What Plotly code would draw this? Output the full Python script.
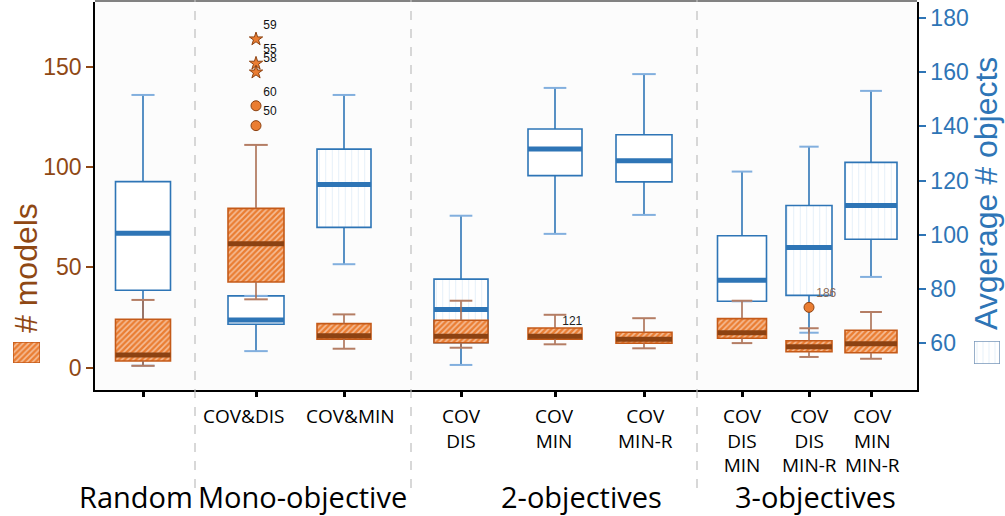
import plotly.graph_objects as go

# ---------------- data ----------------
categories = ["Random", "COV&DIS", "COV&MIN", "COV DIS", "COV MIN", "COV MIN-R",
              "COV DIS MIN", "COV DIS MIN-R", "COV MIN MIN-R"]
tick_labels = ["", "COV&DIS", "COV&MIN", "COV<br>DIS", "COV<br>MIN", "COV<br>MIN-R",
               "COV<br>DIS<br>MIN", "COV<br>DIS<br>MIN-R", "COV<br>MIN<br>MIN-R"]
group_labels = ["Random", "Mono-objective", "2-objectives", "3-objectives"]

# "# models" (left axis, orange)
models_low = [1.0, 34.1, 9.5, 10.0, 11.7, 9.7, 12.3, 5.4, 4.5]
models_q1 = [3.4, 42.7, 14.3, 12.5, 14.3, 12.2, 14.7, 8.0, 7.5]
models_med = [6.4, 61.8, 16.0, 15.7, 15.7, 14.2, 17.5, 10.5, 12.0]
models_q3 = [24.2, 79.4, 22.0, 23.7, 19.8, 17.7, 24.5, 13.5, 18.7]
models_high = [33.8, 111.0, 26.6, 33.4, 26.4, 24.7, 33.4, 19.7, 27.8]

# outliers of "# models": category index, value, label
out_cat = [1, 1, 1, 1, 1, 7, 4]
out_val = [163.7, 151.6, 147.2, 130.5, 120.6, 30.1, 16.3]
out_lab = ["59", "55", "58", "60", "50", "186", "121"]

# "Avgerage # objects" (right axis, blue)
obj_low = [51.6, 57.0, 89.1, 51.9, 100.3, 107.3, 75.4, 63.8, 84.4]
obj_q1 = [79.5, 66.9, 102.7, 60.1, 121.8, 119.5, 75.4, 77.6, 98.3]
obj_med = [100.5, 68.5, 118.5, 72.4, 131.6, 127.3, 83.2, 95.3, 110.8]
obj_q3 = [119.6, 77.4, 131.6, 83.6, 139.0, 136.9, 99.6, 110.8, 126.7]
obj_high = [151.6, 77.4, 151.6, 107.0, 154.2, 159.3, 123.3, 132.5, 153.1]

# ---------------- layout constants ----------------
W, H = 1005, 516
PL, PR, PT, PB = 95, 917, 2, 390
X_POS = [48, 161, 249, 366, 460, 549, 647, 714, 776]       # category centres (x units = px)
LABEL_X = [143, 243, 350, 461, 554, 645, 742, 809, 872]     # tick-label centres (page px)
LABEL_TOP = 401
BOX_W = [55, 56, 54, 54, 54, 56, 49, 46, 52]
BLUE_PATTERN = ["", "", "|", "|", "", "", "", "|", "|"]
OUT_SYMBOL = ["star", "star", "star", "circle", "circle", "circle", "circle"]
OUT_VISIBLE = [1, 1, 1, 1, 1, 1, 0]
OUT_TEXTCOL = ["#111", "#111", "#111", "#111", "#111", "#8a6a58", "#222"]
SEPARATORS = [195, 411, 697]
GROUP_X = [136, 302, 581, 815]

ORANGE = "rgb(234,125,50)"
ORANGE_EDGE = "rgb(196,90,25)"
BROWN = "rgb(140,66,18)"
WHISK_O = "rgb(170,110,82)"
CAP_O = "rgb(180,125,100)"
BLUE = "rgb(46,117,182)"
CAP_B = "rgb(130,175,222)"
LBLUE = "rgb(190,214,238)"
TICK_BROWN = "rgb(143,72,20)"


def px_x(p):
    return p / W


def px_y(p):
    return 1 - p / H


def segs(xs, ws, y0s, y1s, frac=1.0):
    X, Y = [], []
    for xc, w, a, b in zip(xs, ws, y0s, y1s):
        X += [xc - w * frac / 2, xc + w * frac / 2, None]
        Y += [a, b, None]
    return X, Y


def vsegs(xs, a_list, b_list):
    X, Y = [], []
    for xc, a, b in zip(xs, a_list, b_list):
        X += [xc, xc, None]
        Y += [a, b, None]
    return X, Y


fig = go.Figure()


def add_boxes(low, q1, med, q3, high, yaxis, fillcolor, edge, median_col, whisk_col,
              cap_col, pattern):
    fig.add_trace(go.Bar(
        x=X_POS, y=[b - a for a, b in zip(q1, q3)], base=q1, width=BOX_W,
        marker=dict(color=fillcolor, line=dict(color=edge, width=1.6), pattern=pattern),
        yaxis=yaxis, xaxis="x", showlegend=False, hoverinfo="skip"))
    xs, ys = vsegs(X_POS + X_POS, q3 + q1, high + low)
    fig.add_trace(go.Scatter(x=xs, y=ys, mode="lines", line=dict(color=whisk_col, width=1.6),
                             yaxis=yaxis, showlegend=False, hoverinfo="skip"))
    xs, ys = segs(X_POS + X_POS, BOX_W + BOX_W, high + low, high + low, frac=0.42)
    fig.add_trace(go.Scatter(x=xs, y=ys, mode="lines", line=dict(color=cap_col, width=2),
                             yaxis=yaxis, showlegend=False, hoverinfo="skip"))
    xs, ys = segs(X_POS, BOX_W, med, med)
    fig.add_trace(go.Scatter(x=xs, y=ys, mode="lines", line=dict(color=median_col, width=5),
                             yaxis=yaxis, showlegend=False, hoverinfo="skip"))


# blue (objects) first -> drawn underneath
add_boxes(obj_low, obj_q1, obj_med, obj_q3, obj_high, "y", "white", BLUE, BLUE, BLUE, CAP_B,
          dict(shape=BLUE_PATTERN, fgcolor=LBLUE, bgcolor="white", size=6.5, solidity=0.12))
# orange (models) on top
add_boxes(models_low, models_q1, models_med, models_q3, models_high, "y2", ORANGE, ORANGE_EDGE,
          BROWN, WHISK_O, CAP_O,
          dict(shape="/", fgcolor="white", bgcolor=ORANGE, size=4, solidity=0.4))

# outliers
fig.add_trace(go.Scatter(
    x=[X_POS[c] for c in out_cat], y=out_val, mode="markers+text", yaxis="y2",
    text=out_lab, textposition="top right",
    textfont=dict(family="Liberation Sans, Arial", size=12, color=OUT_TEXTCOL),
    marker=dict(symbol=OUT_SYMBOL, size=10, color=ORANGE,
                opacity=OUT_VISIBLE, line=dict(color=BROWN, width=1)),
    showlegend=False, hoverinfo="skip"))

# legend swatches (small subplots in the margins)
fig.add_trace(go.Bar(x=[0], y=[1], base=[0], width=[1], xaxis="x2", yaxis="y3",
                     marker=dict(color=ORANGE, line=dict(color=ORANGE_EDGE, width=1.5),
                                 pattern=dict(shape="/", fgcolor="white", bgcolor=ORANGE,
                                              size=4, solidity=0.4)),
                     cliponaxis=False, showlegend=False, hoverinfo="skip"))
fig.add_trace(go.Bar(x=[0], y=[1], base=[0], width=[1], xaxis="x3", yaxis="y4",
                     marker=dict(color="white", line=dict(color="rgb(120,150,185)", width=1.5),
                                 pattern=dict(shape="|", fgcolor=LBLUE, bgcolor="white",
                                              size=6, solidity=0.12)),
                     cliponaxis=False, showlegend=False, hoverinfo="skip"))

# ranges: left px mapping value=(367.8-y)/2.008 ; right value=60+(343-y)/2.708
left_range = [(367.8 - PB) / 2.008, (367.8 - PT) / 2.008]
right_range = [60 + (343 - PB) / 2.708, 60 + (343 - PT) / 2.708]

fig.update_layout(
    width=W, height=H,
    margin=dict(l=0, r=0, t=0, b=0),
    paper_bgcolor="white", plot_bgcolor="rgb(252,252,252)",
    barmode="overlay",
    xaxis=dict(domain=[px_x(PL), px_x(PR)], range=[0, PR - PL], anchor="y",
               tickmode="array", tickvals=X_POS, ticktext=[""] * len(X_POS),
               ticks="outside", ticklen=5, tickwidth=3, tickcolor="black",
               showline=True, linecolor="black", linewidth=1.5,
               showgrid=False, zeroline=False),
    yaxis=dict(domain=[px_y(PB), px_y(PT)], range=right_range, side="right", anchor="x",
               tickmode="array", tickvals=[60, 80, 100, 120, 140, 160, 180],
               ticks="outside", ticklen=7, tickwidth=2, tickcolor=BLUE,
               showline=True, linecolor="black", linewidth=1.5,
               showgrid=False, zeroline=False,
               tickfont=dict(family="Liberation Sans, Arial", size=23, color=BLUE)),
    yaxis2=dict(range=left_range, overlaying="y", side="left", anchor="x",
                tickmode="array", tickvals=[0, 50, 100, 150],
                ticks="outside", ticklen=7, tickwidth=2, tickcolor=TICK_BROWN,
                showline=True, linecolor="black", linewidth=1.5,
                showgrid=False, zeroline=False,
                tickfont=dict(family="Liberation Sans, Arial", size=23, color=TICK_BROWN)),
    xaxis2=dict(domain=[px_x(13), px_x(40)], range=[-0.5, 0.5], anchor="y3", visible=False),
    yaxis3=dict(domain=[px_y(363), px_y(342)], range=[0, 1], anchor="x2", visible=False),
    xaxis3=dict(domain=[px_x(974), px_x(1000)], range=[-0.5, 0.5], anchor="y4", visible=False),
    yaxis4=dict(domain=[px_y(364), px_y(341)], range=[0, 1], anchor="x3", visible=False),
)

shapes = [dict(type="line", xref="paper", yref="paper", x0=px_x(PL), x1=px_x(PR),
               y0=px_y(1), y1=px_y(1), line=dict(color="rgb(130,130,130)", width=2))]
for s in SEPARATORS:
    shapes.append(dict(type="line", xref="paper", yref="paper", x0=px_x(s), x1=px_x(s),
                       y0=px_y(488), y1=px_y(0),
                       line=dict(color="rgb(190,190,190)", width=1.2, dash="dash")))
fig.update_layout(shapes=shapes)

annotations = [
    dict(text="# models", x=px_x(26), y=px_y(268), xref="paper", yref="paper",
         textangle=-90, showarrow=False, xanchor="center", yanchor="middle",
         font=dict(family="Liberation Sans, Arial", size=32, color=TICK_BROWN)),
    dict(text="Avgerage # objects", x=px_x(986), y=px_y(194), xref="paper", yref="paper",
         textangle=-90, showarrow=False, xanchor="center", yanchor="middle",
         font=dict(family="Liberation Sans, Arial", size=32, color=BLUE)),
]
# category labels (multi-line, under the ticks)
for lx, lab in zip(LABEL_X, tick_labels):
    if lab:
        annotations.append(dict(text=lab, x=px_x(lx), y=px_y(LABEL_TOP), xref="paper",
                                yref="paper", showarrow=False, xanchor="center",
                                yanchor="top", align="center",
                                font=dict(family="Open Sans", size=19, color="black")))
for gx, gl in zip(GROUP_X, group_labels):
    annotations.append(dict(text=gl, x=px_x(gx), y=px_y(496), xref="paper", yref="paper",
                            showarrow=False, xanchor="center", yanchor="middle",
                            font=dict(family="Open Sans", size=29, color="black")))
fig.update_layout(annotations=annotations)

fig.write_html("out.html", config={"displayModeBar": False},
               post_script="document.body.style.margin='0';")
